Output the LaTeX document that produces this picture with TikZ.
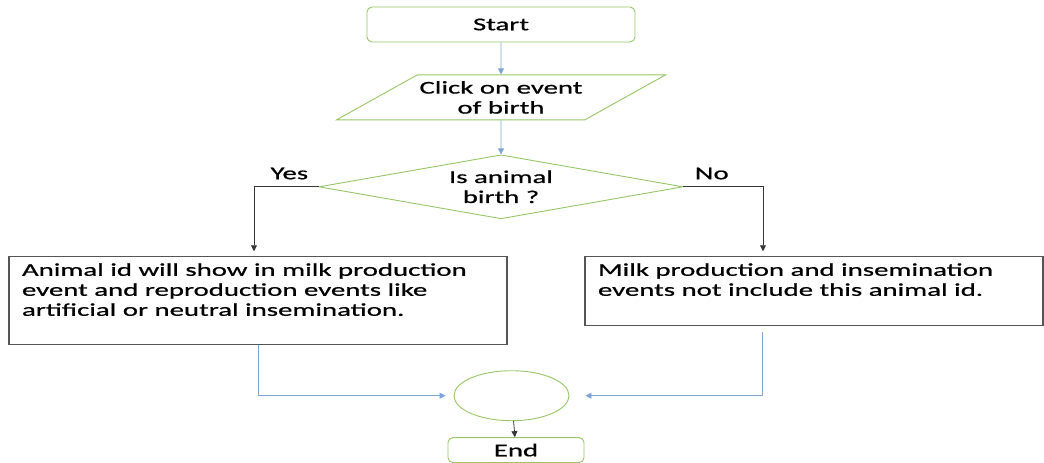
\documentclass[tikz,border=0pt]{standalone}
\usepackage{fontspec}
\setmainfont{Carlito}[FakeStretch=1.6, FakeBold=0.8]
\usepackage{xcolor}
\usetikzlibrary{shapes.geometric, arrows.meta, positioning}
\definecolor{boxgreen}{RGB}{150,198,104}
\definecolor{flowblue}{RGB}{125,165,215}
\definecolor{linegray}{RGB}{55,55,55}
\tikzset{
  basenode/.style={font=\fontsize{18}{20}\selectfont, align=center, inner sep=0pt, line width=0.9pt},
  termbox/.style={basenode, rectangle, rounded corners=5pt, draw=boxgreen},
  iobox/.style={basenode, trapezium, trapezium left angle=22, trapezium right angle=158,
    trapezium stretches body=true, draw=boxgreen},
  decbox/.style={basenode, diamond, aspect=5.7, draw=boxgreen},
  textbox/.style={basenode, rectangle, draw=linegray!85, line width=1.1pt, inner xsep=13pt, inner ysep=0pt},
  joinnode/.style={basenode, ellipse, draw=boxgreen},
  branchlabel/.style={basenode, text=black},
  bluearrow/.style={-{Triangle[length=6pt, width=6pt]}, flowblue, line width=0.8pt},
  darkarrow/.style={-{Triangle[length=6pt, width=6pt]}, linegray, line width=0.8pt}
}

\begin{document}
\begin{tikzpicture}
  \useasboundingbox (0,0) rectangle (1044pt,-463pt);
  \node[termbox, minimum width=268pt, minimum height=35pt] (start) at (501pt,-24.5pt) {Start};
  \node[iobox, minimum width=329pt, minimum height=45pt, below=32pt of start] (click)
        {Click on event\\of birth};
  \node[decbox, minimum width=364pt, minimum height=64pt, below=34pt of click] (decision)
        {Is animal\\birth ?};
  \node[textbox, below=37pt of decision, xshift=-243pt] (yesbox)
        {\parbox[c][88pt][t]{472pt}{\raggedright\rule{0pt}{19pt}Animal id will show in milk production\\
         event and reproduction events like\\artificial or neutral insemination.}};
  \node[textbox, below=37pt of decision, xshift=313pt] (nobox)
        {\parbox[c][69pt][t]{432pt}{\raggedright\rule{0pt}{19pt}Milk production and insemination\\
         events not include this animal id.}};
  \node[joinnode, minimum width=115pt, minimum height=50pt, below=151pt of decision, xshift=10.5pt] (merge) {};
  \node[termbox, minimum width=136pt, minimum height=25pt, below=16pt of merge, xshift=4.5pt] (end) {End};
  \node[branchlabel, above left=7pt and 10pt of decision.west] (yes) {Yes};
  \node[branchlabel, above right=7pt and 11pt of decision.east] (no) {No};
  \draw[bluearrow] (start) -- (click);
  \draw[bluearrow] (click) -- (decision);
  \draw[darkarrow, shorten >=5pt] (decision.west) -| ([xshift=-4pt]yesbox.north);
  \draw[darkarrow, shorten >=5pt] (decision.east) -| ([xshift=-51pt]nobox.north);
  \draw[bluearrow, shorten >=8pt] (yesbox.south) |- (merge.west);
  \draw[bluearrow, shorten <=6pt, shorten >=16pt] ([xshift=-52pt]nobox.south) |- (merge.east);
  \draw[darkarrow] (merge) -- (end);
\end{tikzpicture}
\end{document}
